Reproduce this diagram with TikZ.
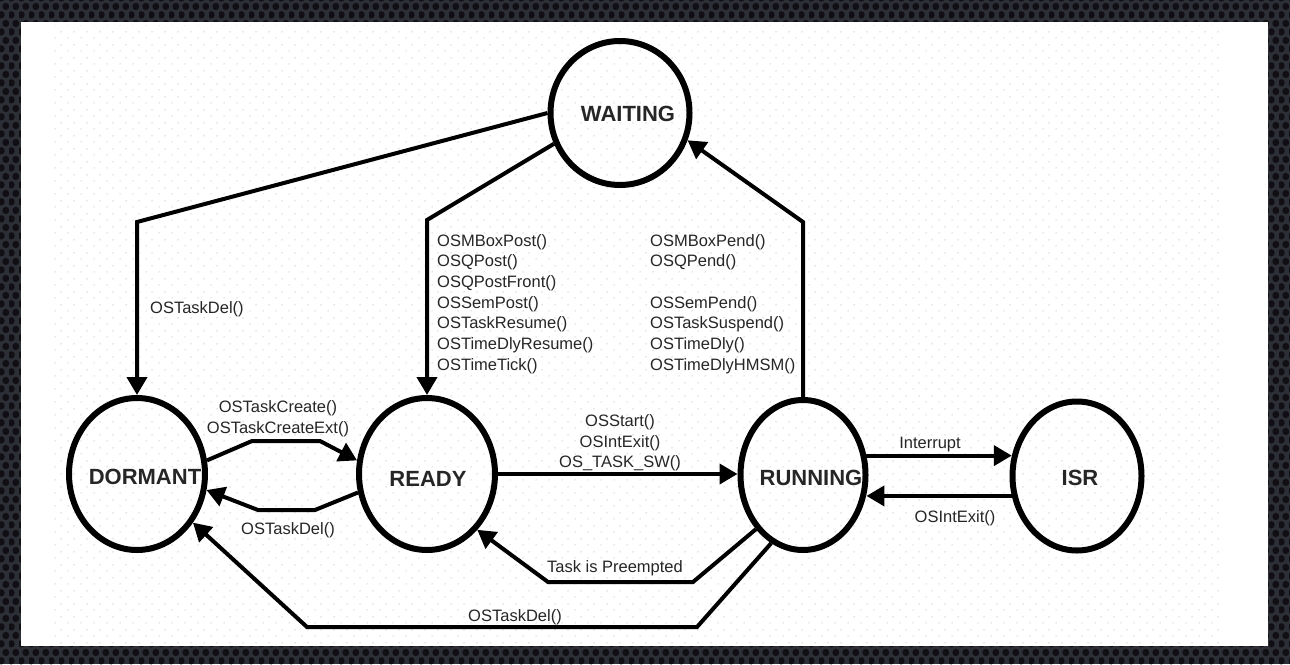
\documentclass[tikz,border=0pt]{standalone}
\usepackage{fontspec}
\setmainfont{Liberation Sans}
\usetikzlibrary{arrows.meta,shapes.geometric,patterns}
\definecolor{bezel}{RGB}{44,47,54}
\definecolor{bezelhole}{RGB}{18,15,20}
\definecolor{dotgray}{RGB}{208,208,214}
\pgfdeclarepatternformonly{paperdots}{\pgfqpoint{0pt}{0pt}}{\pgfqpoint{13pt}{13pt}}{\pgfqpoint{13pt}{13pt}}{
  \pgfpathcircle{\pgfqpoint{3.25pt}{3.25pt}}{0.8pt}
  \pgfpathcircle{\pgfqpoint{9.75pt}{9.75pt}}{0.8pt}
  \pgfusepath{fill}
}
\pgfdeclarepatternformonly{bezelholes}{\pgfqpoint{0pt}{0pt}}{\pgfqpoint{10pt}{17.32pt}}{\pgfqpoint{10pt}{17.32pt}}{
  \pgfpathcircle{\pgfqpoint{2.5pt}{4.33pt}}{3.8pt}
  \pgfpathcircle{\pgfqpoint{7.5pt}{12.99pt}}{3.8pt}
  \pgfusepath{fill}
}
\begin{document}
\begin{tikzpicture}[x=1pt,y=-1pt]
\tikzstyle{every node}+=[inner sep=0pt]
\tikzstyle{state}=[draw=black,line width=6pt,ellipse]
\tikzstyle{statename}=[font=\fontsize{22}{24}\selectfont\bfseries,text=black!85]
\tikzstyle{trans}=[black,line width=4pt,-{Triangle[length=18pt,width=20pt]}]
\tikzstyle{fn}=[font=\fontsize{16.5}{20.7}\selectfont,text=black!85]
\fill [bezel] (0,0) rectangle (1290,664);
\fill [pattern=bezelholes,pattern color=bezelhole] (0,0) rectangle (1290,664);
\fill [white] (21,22) rectangle (1268,646);
\fill [pattern=paperdots,pattern color=dotgray] (50,25) rectangle (1220,644);
\node [state,minimum width=139pt,minimum height=144pt] (waiting) at (620,113) {};
\node [state,minimum width=136pt,minimum height=152pt] (dormant) at (137,474) {};
\node [state,minimum width=136pt,minimum height=152pt] (ready) at (427,474) {};
\node [state,minimum width=125pt,minimum height=150pt] (running) at (803,475) {};
\node [state,minimum width=129pt,minimum height=149pt] (isr) at (1077,476) {};
\node [statename] (waitingname) at (628,114) {WAITING};
\node [statename] (dormantname) at (145,477) {DORMANT};
\node [statename] (readyname) at (428,479) {READY};
\node [statename] (runningname) at (811,478) {RUNNING};
\node [statename] (isrname) at (1080,478) {ISR};
\coordinate (c1) at (dormant.north |- 0,222);
\coordinate (c2) at (ready.north |- 0,220);
\coordinate (c3) at (running.north |- 0,222);
\coordinate (c4) at (252,441);
\coordinate (c5) at (320,441);
\coordinate (c6) at (315,510);
\coordinate (c7) at (258,510);
\coordinate (c8) at (693,582);
\coordinate (c9) at (548,582);
\coordinate (c10) at (697,627);
\coordinate (c11) at (307,627);
\draw [trans] (waiting.west) -- (c1) -- (dormant.north);
\draw [trans] (waiting.205) -- (c2) -- (ready.north);
\draw [trans] (running.north) -- (c3) -- (waiting.338);
\draw [trans] (dormant.11) -- (c4) -- (c5) -- (ready.169);
\draw [trans] (ready.195) -- (c6) -- (c7) -- (dormant.347);
\draw [trans] (ready.east) -- (ready.east -| running.west);
\draw [trans] (running.17) -- (running.17 -| isr.163);
\draw [trans] (isr.197) -- (isr.197 -| running.343);
\draw [trans] (running.229) -- (c8) -- (c9) -- (ready.312);
\draw [trans] (running.245) -- (c10) -- (c11) -- (dormant.319);
\node [fn,anchor=west] (delwaitlbl) at (150,309) {OSTaskDel()};
\node [fn,align=left,anchor=north west] (postlbl) at (437,234) {OSMBoxPost()\\OSQPost()\\OSQPostFront()\\OSSemPost()\\OSTaskResume()\\OSTimeDlyResume()\\OSTimeTick()};
\node [fn,align=left,anchor=north west] (pendlbl) at (650,234) {OSMBoxPend()\\OSQPend()\\[20.7pt]OSSemPend()\\OSTaskSuspend()\\OSTimeDly()\\OSTimeDlyHMSM()};
\node [fn,align=center] (createlbl) at (278,419) {OSTaskCreate()\\OSTaskCreateExt()};
\node [fn] (delreadylbl) at (288,530) {OSTaskDel()};
\node [fn,align=center] (startlbl) at (620,443) {OSStart()\\OSIntExit()\\OS\_TASK\_SW()};
\node [fn] (interruptlbl) at (930,445) {Interrupt};
\node [fn] (intexitlbl) at (955,518) {OSIntExit()};
\node [fn] (preemptlbl) at (615,568) {Task is Preempted};
\node [fn] (delrunlbl) at (515,617) {OSTaskDel()};
\end{tikzpicture}
\end{document}
